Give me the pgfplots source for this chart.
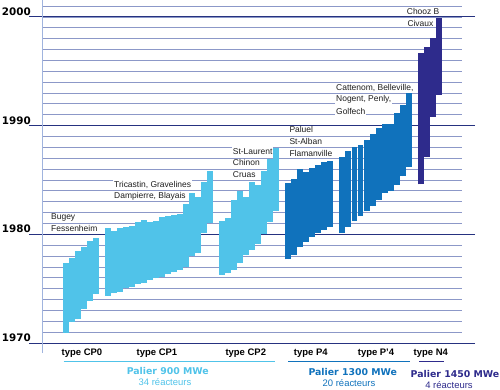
\documentclass[border=0pt]{standalone}
\usepackage{pgfplots}
\pgfplotsset{compat=1.18}
\usepackage{pgfplotstable}
\usepackage{fontspec}
\setmainfont{Liberation Sans}
\newfontfamily\dvs{DejaVu Sans}

\definecolor{cpc}{RGB}{80,195,233}
\definecolor{pc}{RGB}{16,114,188}
\definecolor{nc}{RGB}{46,43,140}
\definecolor{gridc}{RGB}{140,152,200}
\definecolor{navyc}{RGB}{38,50,128}
\definecolor{axc}{RGB}{160,180,222}
\definecolor{txt}{RGB}{30,30,30}

% slot index, start year (bottom), end year (top)
\pgfplotstableread{
x lo hi
0 1970.96 1977.40
1 1971.97 1977.86
2 1972.19 1978.47
3 1973.14 1978.84
4 1973.90 1979.39
5 1974.55 1979.66
}\cpzero
\pgfplotstableread{
x lo hi
7 1974.35 1980.55
8 1974.57 1980.33
9 1974.72 1980.55
10 1975.03 1980.70
11 1975.12 1980.76
12 1975.43 1981.16
13 1975.55 1981.32
14 1975.80 1981.16
15 1975.95 1981.22
16 1976.10 1981.62
17 1976.32 1981.71
18 1976.50 1981.74
19 1976.72 1981.87
20 1976.96 1982.76
21 1978.00 1983.77
22 1978.25 1983.46
23 1980.15 1984.81
24 1981.01 1985.82
}\cpone
\pgfplotstableread{
x lo hi
26 1976.26 1981.22
27 1976.41 1981.50
28 1976.72 1983.11
29 1977.33 1984.01
30 1978.07 1983.43
31 1978.56 1984.84
32 1979.11 1984.54
33 1980.03 1985.78
34 1981.13 1986.88
35 1982.14 1987.91
}\cptwo
\pgfplotstableread{
x lo hi
37 1977.70 1984.75
38 1978.10 1985.06
39 1978.80 1985.98
40 1979.32 1985.76
41 1979.78 1986.07
42 1980.15 1986.38
43 1980.40 1986.62
44 1980.70 1986.72
}\pfour
\pgfplotstableread{
x lo hi
46 1980.09 1987.14
47 1980.70 1987.69
48 1981.20 1988.03
49 1981.68 1988.22
50 1982.14 1988.68
51 1982.60 1989.23
52 1983.16 1989.78
53 1983.80 1990.12
54 1983.98 1990.12
55 1984.54 1991.13
56 1985.34 1991.90
57 1986.22 1993.03
}\ppfour
\pgfplotstableread{
x lo hi
59 1984.60 1996.71
60 1987.14 1997.20
61 1990.82 1998.01
62 1992.82 1999.94
}\nfour

\pgfplotsset{floatbar/.style={only marks, mark=*, mark size=0pt,
  mark options={draw=none, fill=none}, forget plot,
  error bars/.cd, y dir=plus, y explicit, error mark=none,
  error bar style={line width=5.97bp, draw=#1, solid}}}

\begin{document}
\begin{tikzpicture}
\path[use as bounding box] (0bp,0bp) rectangle (500bp,390bp);
\begin{axis}[
  at={(42bp,37bp)}, anchor=south west,
  scale only axis, width=420bp, height=353bp,
  xmin=-3.94, xmax=65.87, ymin=1969.08, ymax=2001.55,
  axis line style={draw=none},
  xtick=\empty,
  ytick={1970,...,2001},
  yticklabels={},
  ymajorgrids,
  major grid style={gridc, line width=0.7bp},
  major tick length=0pt,
  extra y ticks={1970,1980,1990,2000},
  extra y tick labels={1970,1980,1990,2000},
  extra y tick style={
    major tick length=13bp, tick align=outside,
    tick style={navyc, line width=0.9bp},
    major grid style={navyc, line width=0.9bp},
    yticklabel style={font=\dvs\bfseries\fontsize{10.4}{12}\selectfont,
      anchor=south east, inner sep=0pt, xshift=2bp, yshift=1.2bp},
  },
  clip=false,
]
\addplot[floatbar=cpc] table[x=x, y=lo, y error expr=\thisrow{hi}-\thisrow{lo}] {\cpzero};
\addplot[floatbar=cpc] table[x=x, y=lo, y error expr=\thisrow{hi}-\thisrow{lo}] {\cpone};
\addplot[floatbar=cpc] table[x=x, y=lo, y error expr=\thisrow{hi}-\thisrow{lo}] {\cptwo};
\addplot[floatbar=pc] table[x=x, y=lo, y error expr=\thisrow{hi}-\thisrow{lo}] {\pfour};
\addplot[floatbar=pc] table[x=x, y=lo, y error expr=\thisrow{hi}-\thisrow{lo}] {\ppfour};
\addplot[floatbar=nc] table[x=x, y=lo, y error expr=\thisrow{hi}-\thisrow{lo}] {\nfour};
\draw[axc, line width=1bp] (rel axis cs:0,0) -- (rel axis cs:0,1);
\end{axis}

\begin{scope}[x=1bp,y=1bp]
% reactor names
\begin{scope}[every node/.style={font=\fontsize{8.5}{10}\selectfont, text=txt,
    fill=white, inner xsep=0.8bp, inner ysep=0.6bp, anchor=base west}]
\node at (50.2,171) {Bugey};
\node at (50.2,159) {Fessenheim};
\node at (113.2,203) {Tricastin, Gravelines};
\node at (113.2,191.5) {Dampierre, Blayais};
\node at (231.9,236) {St-Laurent};
\node at (231.9,224.5) {Chinon};
\node at (231.9,213) {Cruas};
\node at (288.5,257.5) {Paluel};
\node at (288.5,246) {St-Alban};
\node at (288.5,234) {Flamanville};
\node at (335.2,300) {Cattenom, Belleville,};
\node at (335.2,288.5) {Nogent, Penly,};
\node at (335.2,276) {Golfech};
\node at (405.9,376) {Chooz B};
\node at (406.5,363.5) {Civaux};
\end{scope}

% group labels
\begin{scope}[every node/.style={font=\bfseries\fontsize{9.5}{11}\selectfont, anchor=base, inner sep=0pt}]
\node at (82,34.5) {type CP0};
\node at (157,34.5) {type CP1};
\node at (245.8,34.5) {type CP2};
\node at (310.8,34.5) {type P4};
\node at (376,34.5) {type P'4};
\node at (430.8,34.5) {type N4};
\end{scope}

\draw[cpc, line width=1.4bp] (63.5,28.3) -- (275,28.3);
\draw[pc, line width=1.4bp] (288,28.3) -- (410,28.3);
\draw[nc, line width=1.4bp] (419,28.3) -- (444,28.3);

\begin{scope}[every node/.style={anchor=base, inner sep=0pt}]
\node[text=cpc, font=\dvs\bfseries\fontsize{9.4}{11}\selectfont] at (167.8,16) {Palier 900 MWe};
\node[text=cpc, font=\fontsize{9.5}{11}\selectfont] at (165,4.3) {34 réacteurs};
\node[text=pc, font=\dvs\bfseries\fontsize{9.4}{11}\selectfont] at (352.8,15) {Palier 1300 MWe};
\node[text=pc, font=\fontsize{9.5}{11}\selectfont] at (349,3.3) {20 réacteurs};
\node[text=nc, font=\dvs\bfseries\fontsize{9.4}{11}\selectfont] at (455,12.7) {Palier 1450 MWe};
\node[text=nc, font=\fontsize{9.5}{11}\selectfont] at (449,1.3) {4 réacteurs};
\end{scope}
\end{scope}
\end{tikzpicture}
\end{document}
